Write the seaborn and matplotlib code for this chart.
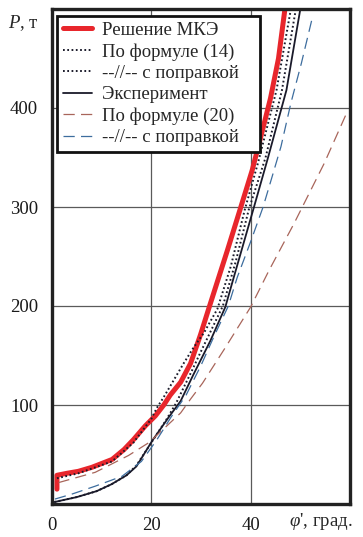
import numpy as np
import pandas as pd
import matplotlib
matplotlib.use("Agg")
import matplotlib.pyplot as plt
import seaborn as sns

# values (phi' in degrees, P in tonnes)
fem_phi = [1.0, 1.0, 3.0, 5.3, 8.0, 12.1, 14.5, 16.4, 18.8, 20.8, 22.5, 23.8, 25.9, 27.9, 29.9, 31.6, 35.3, 37.9, 40.3, 42.4, 44.0, 45.6, 46.9]
fem_p = [15, 29, 31, 33, 37, 45, 55, 65, 79, 89, 100, 110, 123, 142, 171, 198, 256, 298, 337, 378, 410, 450, 500]

f14_phi = [1.0, 5.3, 12.1, 16.4, 20.0, 21.1, 22.5, 24.5, 26.5, 28.5, 30.6, 33.3, 36.0, 38.8, 41.5, 45.2, 48.1]
f14_p = [26, 31, 43, 62, 86, 97, 108, 125, 142, 158, 173, 197, 240, 297, 345, 418, 500]

f14c_phi = [0.5, 5.0, 9.0, 12.0, 15.0, 17.0, 20.0, 23.0, 25.0, 28.2, 29.6, 32.0, 34.4, 37.0, 39.6, 43.0, 46.3, 49.1]
f14c_p = [2, 7, 13, 20, 29, 39, 62, 85, 102, 135, 150, 175, 200, 245, 297, 350, 418, 500]

exp_phi = [0.5, 5.0, 9.0, 12.0, 15.0, 17.0, 20.2, 23.4, 25.9, 28.5, 31.9, 34.9, 36.6, 40.5, 43.5, 47.2, 50.0]
exp_p = [2, 7, 13, 20, 29, 38, 64, 87, 104, 131, 165, 199, 229, 297, 350, 418, 500]

f20_phi = [1.3, 8.7, 15.4, 19.5, 22.5, 25.9, 27.9, 30.3, 32.6, 34.9, 40.0, 43.7, 48.7, 54.8, 59.6]
f20_p = [21.6, 32, 49, 62, 76, 92, 106, 122, 140, 158, 199, 236, 283, 344, 398]

f20c_phi = [0.6, 4.0, 8.7, 14.1, 18.0, 21.0, 24.0, 27.0, 30.0, 32.5, 35.5, 37.3, 40.0, 42.5, 44.4, 46.1, 48.1, 50.2, 52.5]
f20c_p = [5, 10, 18, 28, 43, 64, 88, 110, 140, 168, 200, 229, 265, 300, 332, 361, 405, 445, 493]

labels = ["Решение МКЭ", "По формуле (14)", "--//-- с поправкой",
          "Эксперимент", "По формуле (20)", "--//-- с поправкой"]

sns.set_style("white")
plt.rcParams["font.family"] = ["Liberation Serif", "DejaVu Serif"]
plt.rcParams["mathtext.fontset"] = "custom"
plt.rcParams["mathtext.rm"] = "Liberation Serif"
plt.rcParams["mathtext.it"] = "Liberation Serif:italic"

fig = plt.figure(figsize=(3.63, 5.37), dpi=100)
ax = fig.add_axes([52 / 363, 1 - 504 / 537, 298 / 363, 495 / 537])

dots = (0, (0.9, 1.3))
dashes = (0, (9, 5))
series = [
    (fem_phi, fem_p, dict(color="#e8262c", lw=3.6, ls="-")),
    (f14_phi, f14_p, dict(color="#1a1a2a", lw=1.4, ls=dots)),
    (f14c_phi, f14c_p, dict(color="#1a1a2a", lw=1.4, ls=dots)),
    (exp_phi, exp_p, dict(color="#1a1a2a", lw=1.3, ls="-")),
    (f20_phi, f20_p, dict(color="#a8655a", lw=0.9, ls=dashes)),
    (f20c_phi, f20c_p, dict(color="#3d6d9e", lw=0.9, ls=dashes)),
]

for (x, y, st), lab in zip(series, labels):
    df = pd.DataFrame({"phi": x, "P": y})
    sns.lineplot(data=df, x="phi", y="P", ax=ax, sort=False, estimator=None,
                 label=lab, color=st["color"], linewidth=st["lw"], linestyle=st["ls"])

ax.set_xlim(0, 60)
ax.set_ylim(0, 500)
ax.set_xticks([0, 20, 40])
ax.set_yticks([100, 200, 300, 400])
ax.set_xlabel("")
ax.set_ylabel("")
ax.grid(True, which="major", color="#5a5a5a", linewidth=0.9)
ax.tick_params(axis="both", length=0, labelsize=13.5, colors="#1a1a1a")
ax.tick_params(axis="x", pad=9)
ax.tick_params(axis="y", pad=10)
for s in ax.spines.values():
    s.set_linewidth(2.4)
    s.set_color("#222222")
    s.set_visible(True)

ax.text(-0.045, 0.972, "$P$, т", transform=ax.transAxes, ha="right", va="center", fontsize=13.5)
ax.text(1.01, -0.036, "$\\varphi$', град.", transform=ax.transAxes, ha="right", va="center", fontsize=13.5)

# trailing spaces widen the box on the right, as in the original
pad_labels = [lab + "   " for lab in labels]
handles, _ = ax.get_legend_handles_labels()
leg = ax.legend(handles, pad_labels, loc="upper left", bbox_to_anchor=(0.017, 0.986), borderaxespad=0,
                fontsize=13.5, frameon=True, fancybox=False, framealpha=1,
                edgecolor="#111111", handlelength=1.55, handletextpad=0.55,
                labelspacing=0.22, borderpad=0.32)
leg.get_frame().set_linewidth(2.0)

fig.savefig("out.png", dpi=100)
